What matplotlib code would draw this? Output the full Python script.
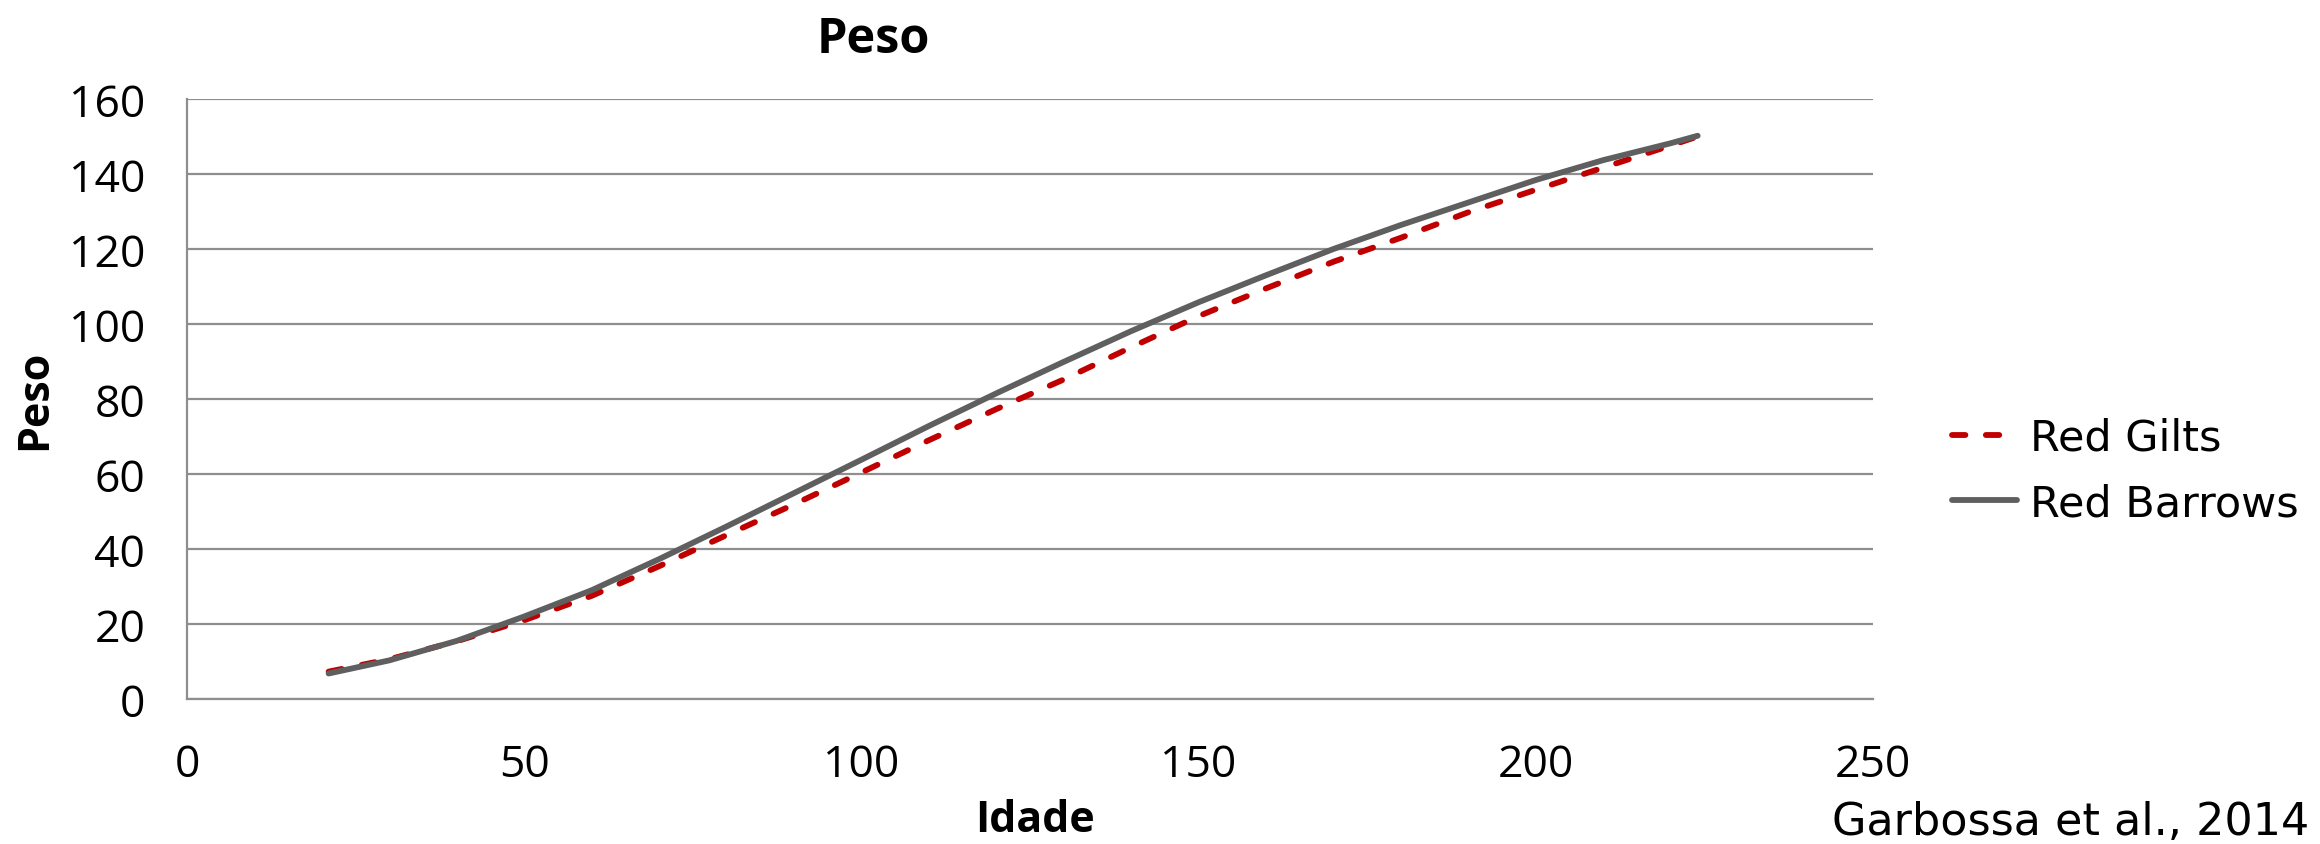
import matplotlib
matplotlib.use("Agg")
import matplotlib.pyplot as plt

# Dados (Garbossa et al., 2014)
idade = [21, 30, 40, 50, 60, 70, 80, 90, 100, 110, 120, 130, 140, 150,
         160, 170, 180, 190, 200, 210, 220, 224]
peso_gilts = [7.3, 10.6, 15.4, 21.0, 27.5, 35.4, 43.7, 51.9, 60.4, 69.0,
              77.3, 85.2, 93.8, 102.1, 109.5, 116.6, 123.0, 129.8, 135.8,
              141.7, 147.6, 150.0]
peso_barrows = [6.8, 10.3, 15.5, 22.0, 29.0, 37.3, 46.0, 54.9, 63.8, 72.8,
                81.5, 89.9, 98.1, 105.8, 113.0, 120.0, 126.4, 132.4, 138.4,
                143.7, 148.2, 150.2]
xticks = [0, 50, 100, 150, 200, 250]
yticks = [0, 20, 40, 60, 80, 100, 120, 140, 160]

cinza_grade = '#8e8e8e'

fig = plt.figure(figsize=(23.2, 8.45), dpi=100)
ax = fig.add_axes([187 / 2320, 1 - 700 / 845, (1873 - 187) / 2320, 600 / 845])

ax.plot(idade, peso_gilts, color='#c00000', lw=4.2, dashes=(2.3, 3.5),
        dash_capstyle='round', solid_capstyle='round', label='Red Gilts', zorder=3)
ax.plot(idade, peso_barrows, color='#5f5f5f', lw=4.2,
        solid_capstyle='round', label='Red Barrows', zorder=4)

ax.set_xlim(0, 250)
ax.set_ylim(0, 160)
ax.set_xticks(xticks)
ax.set_yticks(yticks)
ax.grid(axis='y', color=cinza_grade, lw=1.6)
ax.set_axisbelow(True)
for lado in ['top', 'right']:
    ax.spines[lado].set_visible(False)
for lado in ['left', 'bottom']:
    ax.spines[lado].set_color(cinza_grade)
    ax.spines[lado].set_linewidth(1.6)
ax.tick_params(length=0)
ax.tick_params(axis='y', pad=30)
ax.tick_params(axis='x', pad=31)
for lbl in ax.get_xticklabels() + ax.get_yticklabels():
    lbl.set_fontfamily('Open Sans')
    lbl.set_fontsize(32)

fig.text(873 / 2320, 1 - 52.7 / 845, 'Peso', family='Open Sans', weight='bold',
         fontsize=35, ha='center', va='baseline')
fig.text(1035 / 2320, 1 - 832 / 845, 'Idade', family='Open Sans', weight='bold',
         fontsize=31, ha='center', va='baseline')
fig.text(35 / 2320, 1 - 400 / 845, 'Peso', family='Open Sans', weight='bold',
         fontsize=31, ha='center', va='center', rotation=90)
fig.text(1832 / 2320, 0.001, 'Garbossa et al., 2014', family='DejaVu Sans',
         fontsize=32, ha='left', va='bottom')

fig.legend(loc='center left', bbox_to_anchor=(1952 / 2320, 1 - 471.5 / 845),
           frameon=False, borderpad=0, borderaxespad=0, handlelength=1.5,
           handletextpad=0.3, labelspacing=0.55,
           prop={'family': 'DejaVu Sans', 'size': 31})

fig.savefig('out.png', dpi=100)
